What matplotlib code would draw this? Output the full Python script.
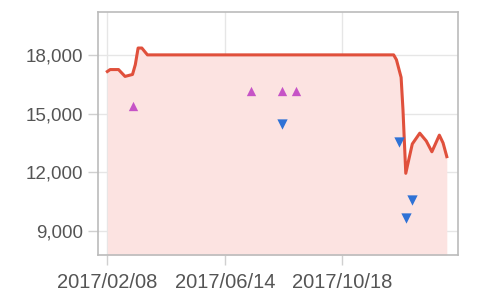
import matplotlib
matplotlib.use("Agg")
import matplotlib.pyplot as plt
from matplotlib.ticker import FuncFormatter
import pandas as pd

# price line
line_dates = ["2017-02-08", "2017-02-11", "2017-02-20", "2017-02-27", "2017-03-07",
              "2017-03-10", "2017-03-13", "2017-03-17", "2017-03-23", "2017-12-12",
              "2017-12-15", "2017-12-20", "2017-12-22", "2017-12-25", "2017-12-28",
              "2018-01-01", "2018-01-09", "2018-01-16", "2018-01-22", "2018-01-30",
              "2018-02-03", "2018-02-07"]
line_vals = [17150, 17250, 17250, 16900, 17000, 17500, 18350, 18350, 18000, 18000,
             17750, 16850, 15200, 11950, 12600, 13450, 14000, 13600, 13050, 13900,
             13500, 12800]

# up / down markers
up_dates = ["2017-03-08", "2017-07-12", "2017-08-14", "2017-08-29"]
up_vals = [15400, 16150, 16150, 16150]
down_dates = ["2017-08-14", "2017-12-18", "2017-12-25", "2018-01-01"]
down_vals = [14450, 13550, 9650, 10600]

tick_dates = ["2017-02-08", "2017-06-14", "2017-10-18"]
tick_labels = ["2017/02/08", "2017/06/14", "2017/10/18"]
y_ticks = [9000, 12000, 15000, 18000]

ld = pd.to_datetime(line_dates)
ud = pd.to_datetime(up_dates)
dd = pd.to_datetime(down_dates)
td = pd.to_datetime(tick_dates)

plt.rcParams["font.family"] = ["Liberation Sans", "DejaVu Sans"]

fig = plt.figure(figsize=(5, 3.03), dpi=100)
ax = fig.add_axes([0.196, 0.158, 0.72, 0.803])

ymin, ymax = 7770, 20200
ax.fill_between(ld, line_vals, ymin, color="#fce3e1", lw=0, zorder=1)
ax.plot(ld, line_vals, color="#e0503c", lw=2.2, zorder=3)
ax.scatter(ud, up_vals, marker="^", s=45, color="#c653c6", zorder=4, lw=0)
ax.scatter(dd, down_vals, marker="v", s=55, color="#2f72d6", zorder=4, lw=0)

ax.set_ylim(ymin, ymax)
ax.set_xlim(pd.Timestamp("2017-01-29"), pd.Timestamp("2018-02-19"))
ax.set_yticks(y_ticks)
ax.yaxis.set_major_formatter(FuncFormatter(lambda v, p: f"{int(v):,}"))
ax.set_xticks(td)
ax.set_xticklabels(tick_labels)

ax.grid(True, color="#e6e6e6", lw=1, zorder=0)
ax.set_axisbelow(True)
for s in ax.spines.values():
    s.set_color("#bbbbbb")
    s.set_linewidth(1.2)
ax.tick_params(axis="both", colors="#d0d0d0", labelcolor="#555555",
               length=7, width=1)
ax.tick_params(axis="y", pad=4, labelsize=13.5)
ax.tick_params(axis="x", pad=6, labelsize=14.5)

fig.savefig("out.png", dpi=100)
